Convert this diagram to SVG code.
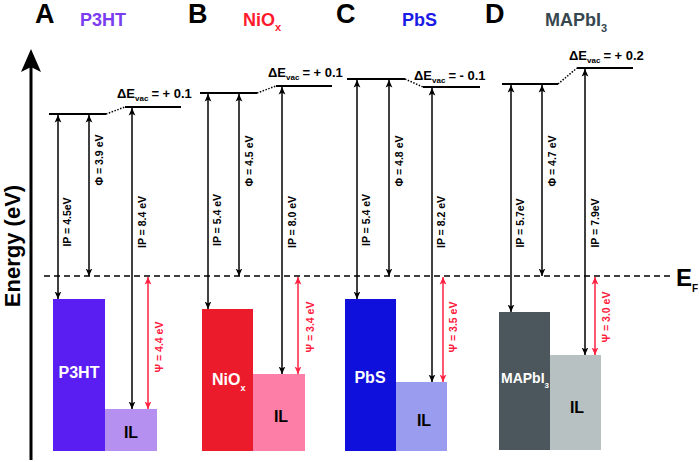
<svg xmlns="http://www.w3.org/2000/svg" width="700" height="462" viewBox="0 0 700 462">
<defs>
<marker id="ah" viewBox="0 0 10 10" refX="10" refY="5" markerWidth="7.5" markerHeight="7.5" markerUnits="userSpaceOnUse" orient="auto-start-reverse">
<path d="M0,0.5 L10,5 L0,9.5 L2.5,5 z" fill="#000"/>
</marker>
<marker id="ahr" viewBox="0 0 10 10" refX="10" refY="5" markerWidth="7.5" markerHeight="7.5" markerUnits="userSpaceOnUse" orient="auto-start-reverse">
<path d="M0,0.5 L10,5 L0,9.5 L2.5,5 z" fill="#ff2040"/>
</marker>
</defs>
<style>
text{font-family:"Liberation Sans",Arial,sans-serif;font-weight:bold}
.lvl{stroke:#000;stroke-width:2;fill:none}
.dot{stroke:#000;stroke-width:1.5;stroke-dasharray:1.5 1.5;fill:none}
.arr{stroke:#000;stroke-width:1.5;fill:none;marker-start:url(#ah);marker-end:url(#ah)}
.red{stroke:#ff2040;stroke-width:1.5;fill:none;marker-start:url(#ahr);marker-end:url(#ahr)}
.lab{font-size:10.5px;fill:#000;text-anchor:middle}
.rlab{font-size:10.5px;fill:#ff2040;text-anchor:middle}
.pan{font-size:27px;fill:#000}
.ttl{font-size:18px}
.dv{font-size:13px;fill:#000}
.sub{font-size:8px}
.box{font-size:16px;text-anchor:middle}
</style>
<rect width="700" height="462" fill="#fff"/>

<g id="axis">
<line x1="31" y1="460" x2="31" y2="66" stroke="#000" stroke-width="3"/>
<path d="M31,49 L41,72 L31,67 L21,72 z" fill="#000"/>
<text transform="translate(20,246) rotate(-90)" text-anchor="middle" font-size="22" fill="#000">Energy (eV)</text>
</g>

<g id="fermi">
<line x1="44" y1="276" x2="670" y2="276" stroke="#000" stroke-width="1.5" stroke-dasharray="6 4"/>
<text x="676" y="286" font-size="24" fill="#000">E<tspan font-size="10" dy="6">F</tspan></text>
</g>

<g id="titles">
<text class="pan" x="35" y="23">A</text>
<text class="ttl" x="80" y="26" fill="#7b3cf0">P3HT</text>
<text class="pan" x="188" y="23">B</text>
<text class="ttl" x="243" y="26" fill="#ff1a2e">NiO<tspan font-size="11" dy="5">x</tspan></text>
<text class="pan" x="336" y="23">C</text>
<text class="ttl" x="402" y="26" fill="#1a1ae6">PbS</text>
<text class="pan" x="485" y="23">D</text>
<text class="ttl" x="545" y="26" fill="#37474f">MAPbI<tspan font-size="11" dy="6">3</tspan></text>
</g>

<!-- Panel A -->
<g id="A-vac">
<line class="lvl" x1="49" y1="114" x2="106" y2="114"/>
<line class="lvl" x1="125" y1="107" x2="181" y2="107"/>
<text class="dv" x="117" y="98">ΔE<tspan class="sub" dy="3">vac</tspan><tspan dx="3" dy="-3">= + 0.1</tspan></text>
</g>
<g id="A-P3HT">
<rect x="53" y="299" width="52" height="152" fill="#5b1ef2"/>
<text class="box" x="79" y="378" fill="#fff">P3HT</text>
</g>
<g id="A-IL">
<rect x="105" y="409" width="52" height="42" fill="#b690f0"/>
<text class="box" x="131" y="438" fill="#000">IL</text>
</g>

<!-- Panel B -->
<g id="B-vac">
<line class="lvl" x1="200" y1="93" x2="257" y2="93"/>
<line class="lvl" x1="276" y1="86" x2="332" y2="86"/>
<text class="dv" x="268" y="77">ΔE<tspan class="sub" dy="3">vac</tspan><tspan dx="3" dy="-3">= + 0.1</tspan></text>
</g>
<g id="B-NiOx">
<rect x="202" y="309" width="51" height="142" fill="#ec1b2b"/>
<text x="212" y="385" font-size="16" fill="#fff">NiO<tspan font-size="9" dy="6">x</tspan></text>
</g>
<g id="B-IL">
<rect x="253" y="374" width="52" height="77" fill="#fd7ea6"/>
<text class="box" x="281" y="422" fill="#000">IL</text>
</g>

<!-- Panel C -->
<g id="C-vac">
<line class="lvl" x1="347" y1="79" x2="405" y2="79"/>
<line class="lvl" x1="423" y1="87" x2="480" y2="87"/>
<text class="dv" x="414" y="80">ΔE<tspan class="sub" dy="3">vac</tspan><tspan dx="3" dy="-3">= - 0.1</tspan></text>
</g>
<g id="C-PbS">
<rect x="345" y="299" width="51" height="152" fill="#1010dc"/>
<text class="box" x="370" y="383" fill="#fff">PbS</text>
</g>
<g id="C-IL">
<rect x="396" y="382" width="51" height="69" fill="#9a9cf0"/>
<text class="box" x="424" y="426" fill="#000">IL</text>
</g>

<!-- Panel D -->
<g id="D-vac">
<line class="lvl" x1="502" y1="84" x2="558" y2="84"/>
<line class="lvl" x1="577" y1="68" x2="633" y2="68"/>
<text class="dv" x="569" y="60">ΔE<tspan class="sub" dy="3">vac</tspan><tspan dx="3" dy="-3">= + 0.2</tspan></text>
</g>
<g id="D-MAPbI3">
<rect x="499" y="312" width="51" height="138" fill="#4b575c"/>
<text x="501" y="383" font-size="14" fill="#fff">MAPbI<tspan font-size="8" dy="5">3</tspan></text>
</g>
<g id="D-IL">
<rect x="550" y="355" width="51" height="95" fill="#b7c1c1"/>
<text class="box" x="577" y="413" fill="#000">IL</text>
</g>

<g id="connectors">
<line class="dot" x1="106" y1="114" x2="125" y2="107"/>
<line class="dot" x1="257" y1="93" x2="276" y2="86"/>
<line class="dot" x1="405" y1="79" x2="423" y2="87"/>
<line class="dot" x1="558" y1="84" x2="577" y2="68"/>

<line class="arr" x1="58" y1="115" x2="58" y2="299"/>
<line class="arr" x1="89" y1="115" x2="89" y2="276"/>
<line class="arr" x1="132" y1="108" x2="132" y2="409"/>
<line class="red" x1="148" y1="277" x2="148" y2="409"/>

<line class="arr" x1="208" y1="94" x2="208" y2="309"/>
<line class="arr" x1="239" y1="94" x2="239" y2="276"/>
<line class="arr" x1="282" y1="87" x2="282" y2="374"/>
<line class="red" x1="298" y1="277" x2="298" y2="374"/>

<line class="arr" x1="357" y1="80" x2="357" y2="299"/>
<line class="arr" x1="389" y1="80" x2="389" y2="276"/>
<line class="arr" x1="432" y1="88" x2="432" y2="382"/>
<line class="red" x1="443" y1="277" x2="443" y2="382"/>

<line class="arr" x1="511" y1="85" x2="511" y2="312"/>
<line class="arr" x1="542" y1="85" x2="542" y2="276"/>
<line class="arr" x1="585" y1="69" x2="585" y2="355"/>
<line class="red" x1="595" y1="277" x2="595" y2="355"/>
</g>

<g id="labels">
<text class="lab" transform="translate(71,222) rotate(-90)">IP = 4.5eV</text>
<text class="lab" transform="translate(103,160) rotate(-90)">Φ = 3.9 eV</text>
<text class="lab" transform="translate(146,222) rotate(-90)">IP = 8.4 eV</text>
<text class="rlab" transform="translate(163,347) rotate(-90)">Ψ = 4.4 eV</text>

<text class="lab" transform="translate(221,220) rotate(-90)">IP = 5.4 eV</text>
<text class="lab" transform="translate(253,161) rotate(-90)">Φ = 4.5 eV</text>
<text class="lab" transform="translate(296,222) rotate(-90)">IP = 8.0 eV</text>
<text class="rlab" transform="translate(314,327) rotate(-90)">Ψ = 3.4 eV</text>

<text class="lab" transform="translate(370,220) rotate(-90)">IP = 5.4 eV</text>
<text class="lab" transform="translate(403,161) rotate(-90)">Φ = 4.8 eV</text>
<text class="lab" transform="translate(445,222) rotate(-90)">IP = 8.2 eV</text>
<text class="rlab" transform="translate(457,327) rotate(-90)">Ψ = 3.5 eV</text>

<text class="lab" transform="translate(524,223) rotate(-90)">IP = 5.7eV</text>
<text class="lab" transform="translate(556,161) rotate(-90)">Φ = 4.7 eV</text>
<text class="lab" transform="translate(599,223) rotate(-90)">IP = 7.9eV</text>
<text class="rlab" transform="translate(610,317) rotate(-90)">Ψ = 3.0 eV</text>
</g>
</svg>
